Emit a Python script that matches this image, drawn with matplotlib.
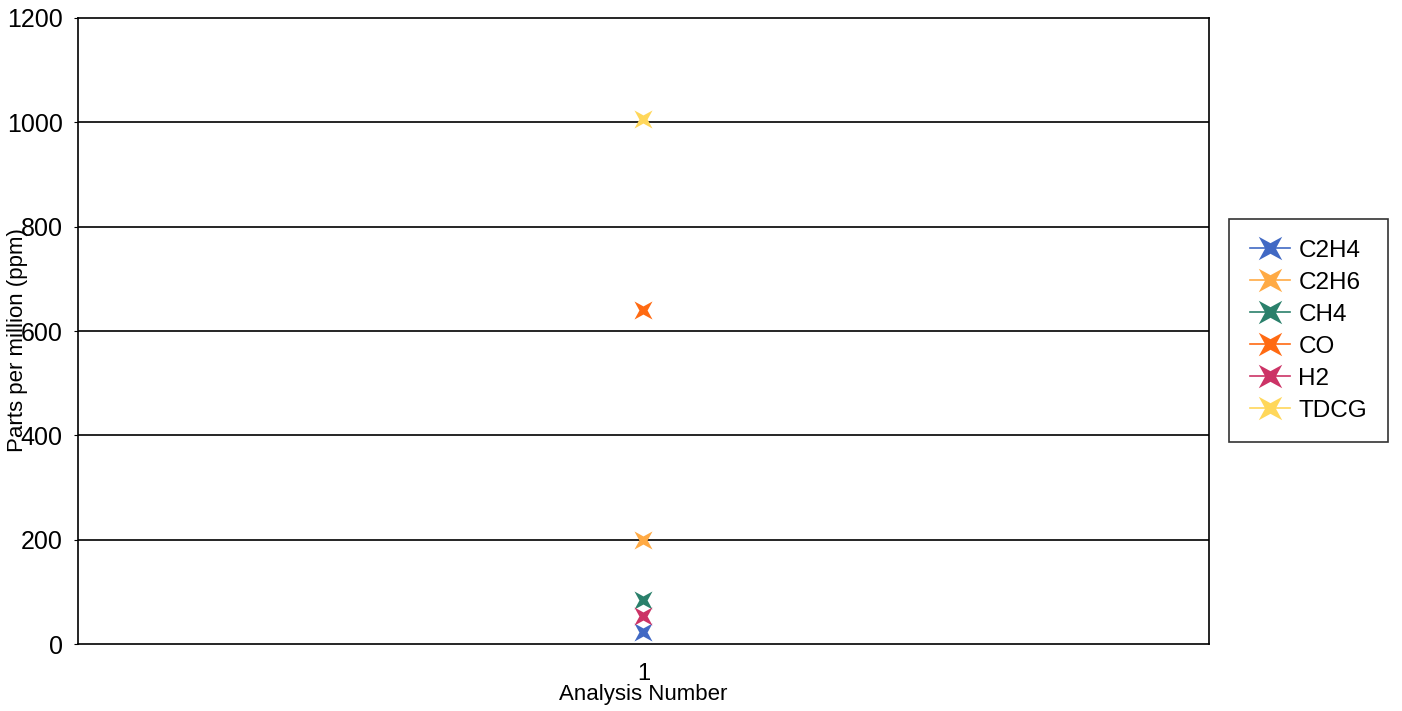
import numpy as np
import matplotlib
matplotlib.use("Agg")
import matplotlib.pyplot as plt
from matplotlib.path import Path
from matplotlib.transforms import Affine2D

plt.rcParams['font.family'] = ['Liberation Sans', 'DejaVu Sans']

# data
gases = ["C2H4", "C2H6", "CH4", "CO", "H2", "TDCG"]
ppm = [23, 200, 84, 640, 54, 1006]
analysis = [1]
colors = ["#4169c4", "#ffaa44", "#2a806b", "#ff6a12", "#cc3366", "#ffd75a"]
yticks = [0, 200, 400, 600, 800, 1000, 1200]

# concave 4-point star, turned 45 deg
star = Path.unit_regular_star(4, 0.32)
star = star.transformed(Affine2D().rotate_deg(45))

fig = plt.figure(figsize=(14.02, 7.11), dpi=100)
ax = fig.add_axes([0.0556, 0.0942, 0.8067, 0.8805])

for g, v, c in zip(gases, ppm, colors):
    ax.plot(analysis, [v], linestyle="-", lw=1.2, color=c, marker=star,
            markersize=13, markeredgewidth=0, label=g)

ax.set_xlim(0, 2)
ax.set_ylim(0, 1200)
ax.set_xticks(analysis)
ax.set_yticks(yticks)
ax.tick_params(axis="y", labelsize=18, length=3, pad=8)
ax.tick_params(axis="x", labelsize=17, length=0, pad=14)
for y in yticks[1:-1]:
    ax.axhline(y, color="black", lw=1.2, zorder=0)
for s in ax.spines.values():
    s.set_linewidth(1.2)
    s.set_color("black")

# the y label sits over the tick labels, as in the reference
ax.set_xlabel("Analysis Number", fontsize=16, labelpad=-1)
fig.text(18 / 1402, 1 - 340 / 711, "Parts per million (ppm)", rotation=90,
         ha="center", va="center", fontsize=16)

leg = fig.legend(loc="upper left", bbox_to_anchor=(1229 / 1402, 1 - 219 / 711),
                 fontsize=17.5, markerscale=1.3, handlelength=1.65, frameon=True,
                 fancybox=False, edgecolor="black", borderpad=0.85,
                 labelspacing=0.41, handletextpad=0.35, borderaxespad=0)
leg.get_frame().set_linewidth(1.2)

fig.savefig("out.png", dpi=100)
